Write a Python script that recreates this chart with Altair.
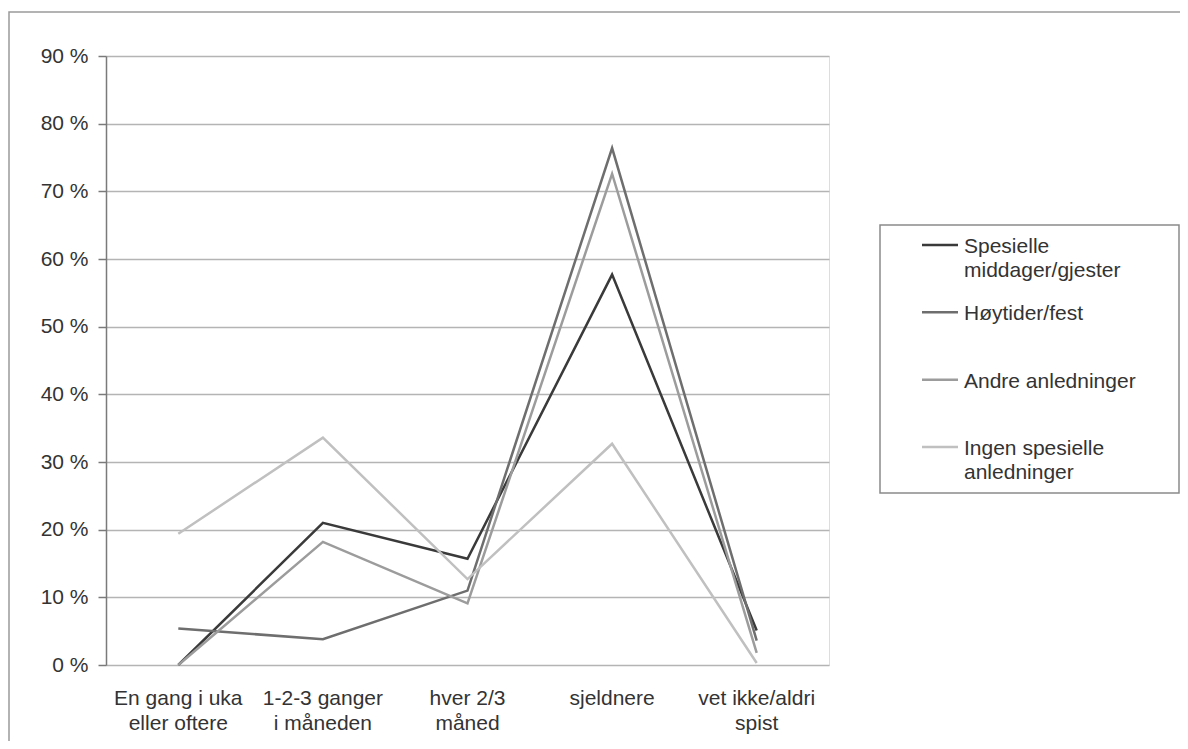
import altair as alt
import pandas as pd

# ---- data ----
categories = ["En gang i uka\neller oftere", "1-2-3 ganger\ni måneden", "hver 2/3\nmåned",
              "sjeldnere", "vet ikke/aldri\nspist"]
series = ["Spesielle middager/gjester", "Høytider/fest", "Andre anledninger",
          "Ingen spesielle anledninger"]
legend_labels = ["Spesielle\nmiddager/gjester", "Høytider/fest", "Andre anledninger",
                 "Ingen spesielle\nanledninger"]
spesielle = [0.0, 21.0, 15.7, 57.7, 5.1]
hoytider = [5.4, 3.8, 11.0, 76.4, 3.6]
andre = [0.0, 18.2, 9.1, 72.6, 1.8]
ingen = [19.4, 33.6, 12.7, 32.7, 0.3]
y_ticks = [0, 10, 20, 30, 40, 50, 60, 70, 80, 90]
x_ticks = [-0.5, 0.5, 1.5, 2.5, 3.5, 4.5]
colors = ["#3a3a3a", "#6e6e6e", "#9c9c9c", "#c0c0c0"]

values = dict(zip(series, [spesielle, hoytider, andre, ingen]))
rows = []
for s in series:
    for i, c in enumerate(categories):
        rows.append({"series": s, "idx": i, "value": values[s][i]})
df = pd.DataFrame(rows)
cat_df = pd.DataFrame({"idx": list(range(len(categories))), "cat": categories})
leg_df = pd.DataFrame({"series": series, "label": legend_labels})
one = pd.DataFrame({"a": [0]})

FONT = "Liberation Sans"
TXT = "#333333"
W, H = 723, 609

xscale = alt.Scale(domain=[-0.5, 4.5], nice=False, zero=False)
yscale = alt.Scale(domain=[0, 90], nice=False)
color = alt.Color("series:N", scale=alt.Scale(domain=series, range=colors), legend=None)

frame = alt.Chart(one).mark_rect(filled=False, stroke="#9a9a9a", strokeWidth=1.5).encode(
    x=alt.value(-97), x2=alt.value(1100), y=alt.value(-44), y2=alt.value(700))

legend_box = alt.Chart(one).mark_rect(filled=False, stroke="#8a8a8a", strokeWidth=1.5).encode(
    x=alt.value(774), x2=alt.value(1073), y=alt.value(169), y2=alt.value(437))

lines = alt.Chart(df).mark_line(strokeWidth=2.5).encode(
    x=alt.X("idx:Q", scale=xscale,
            axis=alt.Axis(values=x_ticks, labels=False, ticks=True, tickSize=7,
                          tickColor="#7a7a7a", tickWidth=1.5, grid=False, title=None,
                          domainColor="#7a7a7a", domainWidth=1.5)),
    y=alt.Y("value:Q", scale=yscale,
            axis=alt.Axis(values=y_ticks, labelExpr="datum.value + ' %'", grid=True,
                          gridColor="#b4b4b4", gridWidth=1.5, tickSize=8, tickColor="#7a7a7a",
                          tickWidth=1.5, domainColor="#7a7a7a", domainWidth=1.5,
                          labelPadding=10, labelFont=FONT, labelFontSize=21,
                          labelColor=TXT, title=None)),
    color=color,
)

cat_text = alt.Chart(cat_df).mark_text(
    lineBreak="\n", baseline="top", align="center", font=FONT, fontSize=21,
    lineHeight=25, color=TXT).encode(
    x=alt.X("idx:Q", scale=xscale, axis=None),
    y=alt.value(632),
    text="cat:N",
)

leg_y = alt.Y("series:N", scale=alt.Scale(type="point", domain=series, range=[189, 391], padding=0),
              axis=None)
leg_rules = alt.Chart(leg_df).mark_rule(strokeWidth=2.5).encode(
    x=alt.value(816), x2=alt.value(852), y=leg_y, color=color)
leg_text = alt.Chart(leg_df).mark_text(
    lineBreak="\n", baseline="top", align="left", font=FONT, fontSize=21, lineHeight=24,
    dy=-9, color=TXT).encode(
    x=alt.value(858), y=leg_y, text="label:N")

chart = alt.layer(frame, legend_box, lines, cat_text, leg_rules, leg_text).resolve_scale(
    y="independent"
).properties(
    width=W, height=H,
    autosize=alt.AutoSizeParams(type="none"),
    padding={"left": 98, "top": 48, "right": 351, "bottom": 76},
).configure_view(stroke="#7a7a7a", strokeWidth=1.5).configure(background="white")

chart.save("out.html", embed_options={"renderer": "svg", "actions": False})
